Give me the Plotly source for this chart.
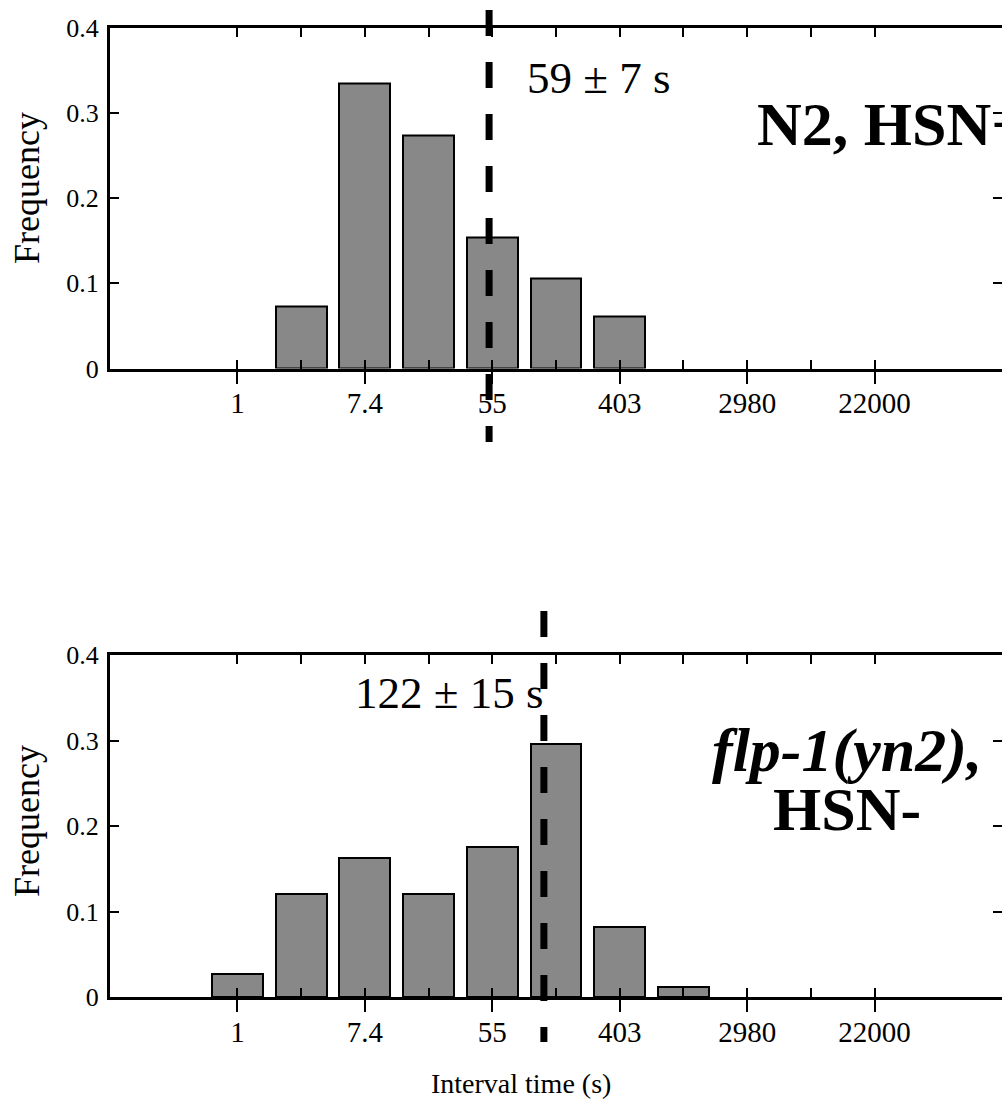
import plotly.graph_objects as go

# ---------------- data ----------------
minor_ln_ticks = [0, 1, 2, 3, 4, 5, 6, 7, 8, 9, 10]
major_ln_ticks = [0, 2, 4, 6, 8, 10]
major_tick_text = ["1", "7.4", "55", "403", "2980", "22000"]

y_tick_vals = [0, 0.1, 0.2, 0.3, 0.4]
y_tick_text = ["0", "0.1", "0.2", "0.3", "0.4"]

top_bins_ln = [1, 2, 3, 4, 5, 6]
top_freq = [0.073, 0.334, 0.273, 0.154, 0.106, 0.061]

bottom_bins_ln = [0, 1, 2, 3, 4, 5, 6, 7]
bottom_freq = [0.027, 0.121, 0.163, 0.121, 0.175, 0.296, 0.082, 0.012]

mean_ln = [3.95, 4.81]
mean_labels = ["59 ± 7 s", "122 ± 15 s"]
panel_titles = ["<b>N2, HSN+</b>", "<b><i>flp-1(yn2),</i></b>", "<b>HSN-</b>"]

# ---------------- layout helpers ----------------
W, H = 1002, 1114
ML = 110
FONT = "Liberation Serif"


def px(x):
    # paper x coordinate (plot area spans ML..W)
    return (x - ML) / (W - ML)


def py(y):
    return 1 - y / H


top_dom = [py(368.5), py(27.5)]
bot_dom = [py(997), py(655)]
x_range = [-2, 12]
bar_color = "#888888"

fig = go.Figure()

fig.add_trace(go.Bar(x=top_bins_ln, y=top_freq, width=0.8, xaxis="x", yaxis="y",
                     marker=dict(color=bar_color, line=dict(color="black", width=2)),
                     showlegend=False, hoverinfo="skip"))
fig.add_trace(go.Bar(x=bottom_bins_ln, y=bottom_freq, width=0.8, xaxis="x2", yaxis="y2",
                     marker=dict(color=bar_color, line=dict(color="black", width=2)),
                     showlegend=False, hoverinfo="skip"))
# dummy traces so the overlay axes (labels / right ticks) are drawn
for xa, ya in [("x3", "y3"), ("x4", "y4")]:
    fig.add_trace(go.Scatter(x=[0], y=[0], xaxis=xa, yaxis=ya, mode="markers",
                             marker=dict(opacity=0), showlegend=False, hoverinfo="skip"))

common_x_minor = dict(range=x_range, tickvals=minor_ln_ticks, ticks="inside", ticklen=9,
                      tickwidth=2, tickcolor="black", showticklabels=False,
                      showline=True, linewidth=3, linecolor="black", mirror="ticks",
                      showgrid=False, zeroline=False, fixedrange=True, automargin=False)
common_x_major = dict(range=x_range, tickvals=major_ln_ticks, ticktext=major_tick_text,
                      ticks="outside", ticklen=14, tickwidth=2, tickcolor="black",
                      showline=False, showgrid=False, zeroline=False,
                      tickfont=dict(family=FONT, size=29, color="black"),
                      ticklabelstandoff=-5, fixedrange=True, automargin=False)
common_y_left = dict(range=[0, 0.4], tickvals=y_tick_vals, ticktext=y_tick_text,
                     ticks="inside", ticklen=9, tickwidth=2, tickcolor="black",
                     showline=True, linewidth=3, linecolor="black",
                     showgrid=False, zeroline=False,
                     tickfont=dict(family=FONT, size=26, color="black"),
                     ticklabelstandoff=3, fixedrange=True, automargin=False)
common_y_right = dict(range=[0, 0.4], tickvals=y_tick_vals, ticks="inside", ticklen=9,
                      tickwidth=2, tickcolor="black", showticklabels=False, side="right",
                      showline=False, showgrid=False, zeroline=False, fixedrange=True,
                      automargin=False)

fig.update_layout(
    width=W, height=H,
    margin=dict(l=ML, r=0, t=0, b=0, autoexpand=False),
    paper_bgcolor="white", plot_bgcolor="white",
    bargap=0,
    xaxis=dict(common_x_minor, anchor="y"),
    yaxis=dict(common_y_left, domain=top_dom, anchor="x"),
    xaxis2=dict(common_x_minor, anchor="y2"),
    yaxis2=dict(common_y_left, domain=bot_dom, anchor="x2"),
    xaxis3=dict(common_x_major, overlaying="x", anchor="y"),
    yaxis3=dict(common_y_right, overlaying="y", anchor="x"),
    xaxis4=dict(common_x_major, overlaying="x2", anchor="y2"),
    yaxis4=dict(common_y_right, overlaying="y2", anchor="x2"),
)

# dashed mean lines (extend beyond the plot frames)
fig.add_shape(type="line", xref="x", yref="paper", x0=mean_ln[0], x1=mean_ln[0],
              y0=py(10), y1=py(442), line=dict(color="black", width=7, dash="26px,26px"))
fig.add_shape(type="line", xref="x2", yref="paper", x0=mean_ln[1], x1=mean_ln[1],
              y0=py(611), y1=py(1042), line=dict(color="black", width=7, dash="26px,26px"))

ann = []
# mean labels
ann.append(dict(text=mean_labels[0], x=px(525), y=py(78), xanchor="left", yanchor="middle"))
ann.append(dict(text=mean_labels[1], x=px(353), y=py(693), xanchor="left", yanchor="middle"))
for a in ann:
    a.update(xref="paper", yref="paper", showarrow=False,
             font=dict(family=FONT, size=45, color="black"))
# panel titles
titles = [
    dict(text=panel_titles[0], x=px(755), y=py(124), xanchor="left"),
    dict(text=panel_titles[1], x=px(847), y=py(750), xanchor="center"),
    dict(text=panel_titles[2], x=px(847), y=py(809), xanchor="center"),
]
for t in titles:
    t.update(xref="paper", yref="paper", showarrow=False, yanchor="middle",
             font=dict(family=FONT, size=62, color="black"))
    ann.append(t)
# axis titles
for yc in [188, 821]:
    ann.append(dict(text="Frequency", x=px(27), y=py(yc), xref="paper", yref="paper",
                    showarrow=False, textangle=-90, xanchor="center", yanchor="middle",
                    font=dict(family=FONT, size=36, color="black")))
ann.append(dict(text="Interval time (s)", x=px(521), y=py(1083), xref="paper", yref="paper",
                showarrow=False, xanchor="center", yanchor="middle",
                font=dict(family=FONT, size=28, color="black")))

fig.update_layout(annotations=ann)

fig.write_html("out.html")
